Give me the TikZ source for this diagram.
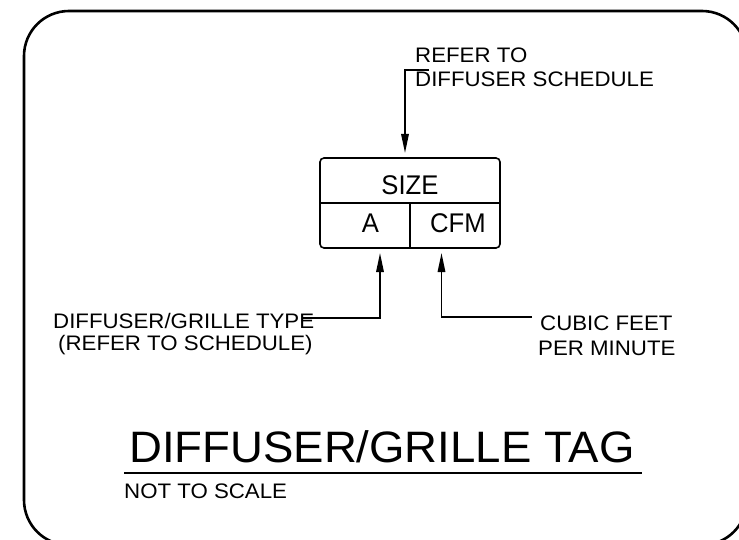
\documentclass[tikz,border=0pt]{standalone}
\usepackage{fontspec}
\setmainfont{Liberation Sans}
\newfontfamily\smallf{Liberation Sans}[FakeStretch=1.06]
\newfontfamily\titlef{Liberation Sans}[FakeStretch=1.035]
\newfontfamily\boxf{Liberation Sans}[FakeStretch=0.95]
\usetikzlibrary{arrows.meta}
\begin{document}
\begin{tikzpicture}[x=1pt,y=-1pt,
  frame/.style={line width=2.6pt, rounded corners=45pt},
  tagbox/.style={draw, line width=1.6pt, rounded corners=4pt, minimum width=180pt, minimum height=90pt, inner sep=0pt},
  leader/.style={line width=1.6pt},
  arr/.style={leader, -{Triangle[length=19pt,width=7.5pt]}},
  lbl/.style={inner sep=0pt, font=\smallf\fontsize{21}{25}\selectfont},
  boxtxt/.style={inner sep=0pt, font=\boxf\fontsize{27}{30}\selectfont},
  ttl/.style={inner sep=0pt, font=\titlef\fontsize{44}{50}\selectfont}]
\useasboundingbox (0,0) rectangle (739,540);
\clip (0,0) rectangle (739,540);
\fill[white] (0,0) rectangle (739,540);
% outer frame
\draw[frame] (24,11) rectangle (747,545);
% tag box
\node[tagbox] (tag) at (410,203) {};
\draw[leader] (tag.west) -- (tag.east);
\draw[leader] (tag.center) -- (tag.south);
\node[boxtxt, anchor=base] (size) at (410,195) {SIZE};
\node[boxtxt, anchor=base] (a) at (370.5,233) {A};
\node[boxtxt, anchor=base] (cfm) at (458,233) {CFM};
% top label
\node[lbl, anchor=base west] (ref1) at (415,63) {REFER TO};
\node[lbl, anchor=base west] (ref2) at (415,87) {DIFFUSER SCHEDULE};
\coordinate (stub) at (429,70);
\coordinate (toptip) at (405,153);
\draw[arr] (stub) -| (toptip);
% left label
\node[lbl, anchor=base west] (type1) at (53,328) {DIFFUSER/GRILLE TYPE};
\node[lbl, anchor=base west] (type2) at (58,350.5) {(REFER TO SCHEDULE)};
\coordinate (lstart) at (303,318);
\coordinate (tipA) at (380,253);
\draw[arr] (lstart) -| (tipA);
% right label
\node[lbl, anchor=base west] (cfm1) at (540,330) {CUBIC FEET};
\node[lbl, anchor=base west] (cfm2) at (538,355.5) {PER MINUTE};
\coordinate (rstart) at (532,317);
\coordinate (tipB) at (441.5,253);
\draw[arr] (rstart) -| (tipB);
% title
\node[ttl, anchor=base west] (title) at (129,462.5) {DIFFUSER/GRILLE TAG};
\coordinate (ul1) at (124,473);
\coordinate (ul2) at (642,473);
\draw[line width=2pt] (ul1) -- (ul2);
\node[lbl, anchor=base west] (nts) at (124,498) {NOT TO SCALE};
\end{tikzpicture}
\end{document}
